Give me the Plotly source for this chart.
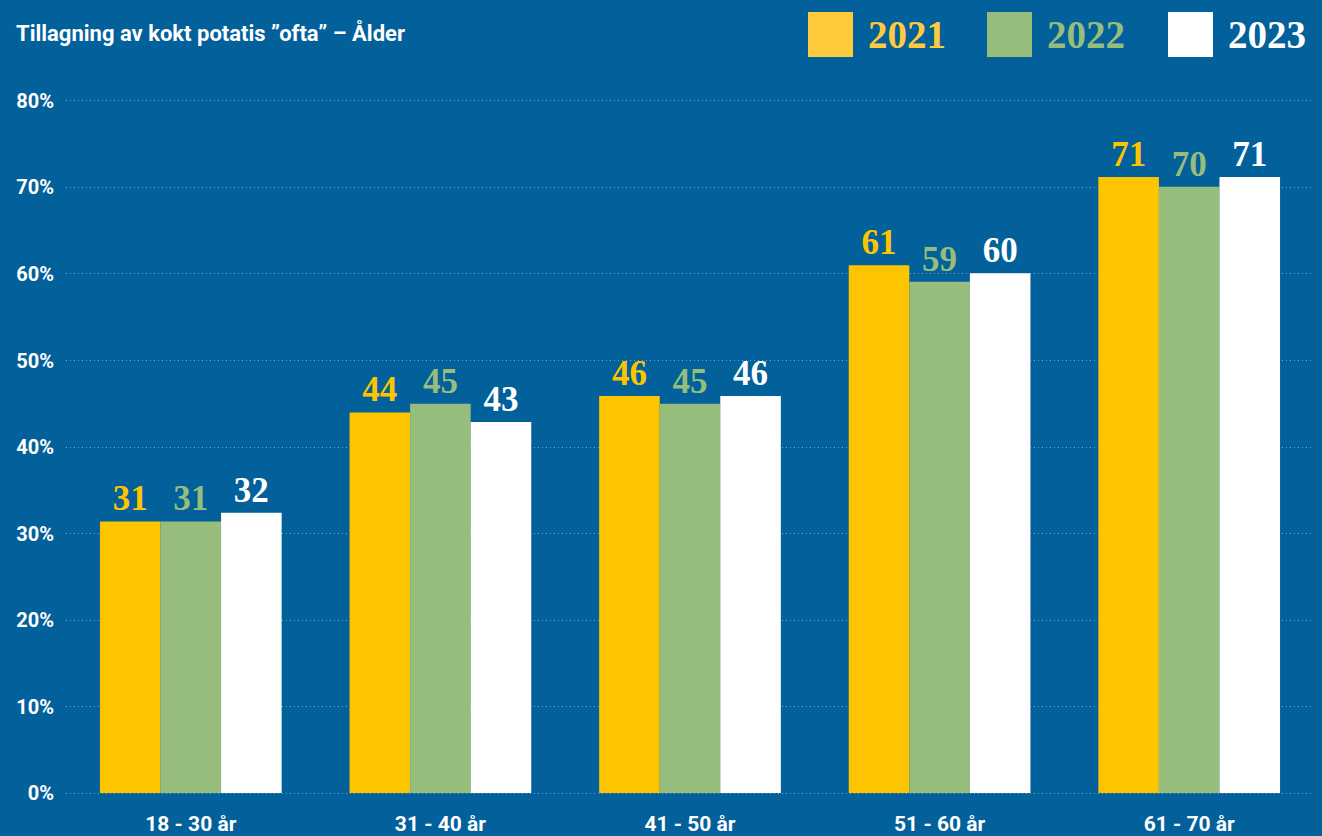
import plotly.graph_objects as go

categories = ["18 - 30 år", "31 - 40 år", "41 - 50 år", "51 - 60 år", "61 - 70 år"]
years = ["2021", "2022", "2023"]
v2021 = [31.4, 44.0, 45.9, 61.0, 71.2]
v2022 = [31.4, 45.0, 45.0, 59.1, 70.1]
v2023 = [32.4, 42.9, 45.9, 60.1, 71.2]
y_ticks = [0, 10, 20, 30, 40, 50, 60, 70, 80]
y_ticklabels = [f"{t}%" for t in y_ticks]
title = "Tillagning av kokt potatis ”ofta” – Ålder"

bar_colors = ["#FDC500", "#97BD7C", "#FFFFFF"]
legend_colors = ["#FFCB3D", "#97BD7C", "#FFFFFF"]
BG = "#02609A"
W, H = 1322, 836
ML, MR, MT, MB = 66, 8, 99, 41
PAD_V = 0.23
SERIF = "Liberation Serif"
SANS = "Roboto"

fig = go.Figure()
for name, vals, col in zip(years, [v2021, v2022, v2023], bar_colors):
    fig.add_trace(go.Bar(
        x=categories, y=vals, name=name, marker_color=col, marker_line_width=0,
        text=[f"{round(v)}" for v in vals], textposition="outside",
        textfont=dict(family=SERIF, size=35, color=col, weight="bold"), cliponaxis=False,
        showlegend=False,
    ))

pw, ph = W - ML - MR, H - MT - MB
def px(x):
    return (x - ML) / pw
def py(y):
    return (H - MB - y) / ph

shapes = []
annotations = [dict(text=f"<b>{title}</b>", x=px(14), y=py(33), xref="paper", yref="paper",
                    xanchor="left", yanchor="middle", showarrow=False,
                    font=dict(family=SANS, size=22, color="white"))]
leg_x = [808, 987, 1168]
for yr, lx, col in zip(years, leg_x, legend_colors):
    shapes.append(dict(type="rect", xref="paper", yref="paper", x0=px(lx), x1=px(lx + 45),
                       y0=py(57), y1=py(12), fillcolor=col, line_width=0))
    annotations.append(dict(text=f"<b>{yr}</b>", x=px(lx + 58), y=py(35), xref="paper", yref="paper",
                            xanchor="left", yanchor="middle", showarrow=False,
                            font=dict(family=SERIF, size=39, color=col)))

fig.update_layout(
    width=W, height=H, paper_bgcolor=BG, plot_bgcolor=BG,
    margin=dict(l=ML, r=MR, t=MT, b=MB, pad=0, autoexpand=False),
    barmode="group", bargap=0.272, bargroupgap=0,
    shapes=shapes, annotations=annotations,
)
fig.update_xaxes(showgrid=False, zeroline=False, showline=False, ticks="", ticklabelstandoff=14,
                 automargin=False,
                 tickfont=dict(family=SANS, size=21, color="white", weight="bold"))
fig.update_yaxes(range=[-PAD_V, 80 + PAD_V], tickvals=y_ticks, ticktext=y_ticklabels,
                 showgrid=True, gridcolor="rgba(175,200,220,0.7)", griddash="1px,3px", gridwidth=1,
                 zeroline=False, showline=False, ticks="", ticklabelstandoff=11, automargin=False,
                 tickfont=dict(family=SANS, size=20, color="white", weight="bold"))
fig.write_html("out.html", config={"displayModeBar": False},
               post_script="document.body.style.margin='0';")
